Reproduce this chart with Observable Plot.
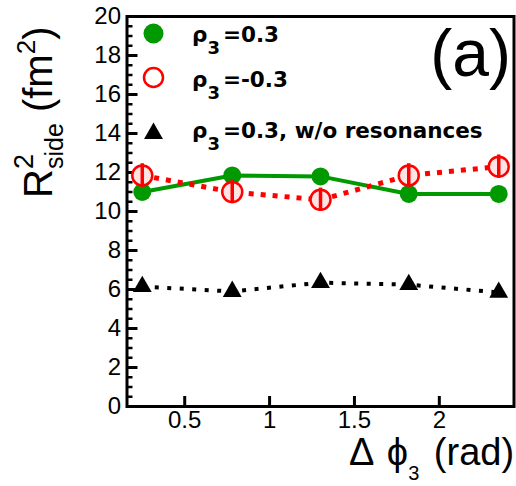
<!DOCTYPE html>
<html><head><meta charset="utf-8">
<script src="https://cdn.jsdelivr.net/npm/d3@7"></script>
<script src="https://cdn.jsdelivr.net/npm/@observablehq/plot@0.6"></script>
<style>body{margin:0;background:#fff} svg{display:block}</style>
</head><body><div id="chart"></div>
<script>
// Δφ3 (rad)
const dphi = [0.25, 0.78, 1.30, 1.82, 2.35];
// R^2_side (fm^2)
const rsidePos = [11.0, 11.85, 11.8, 10.9, 10.9];        // ρ3 = 0.3
const rsideNeg = [11.85, 11.0, 10.6, 11.85, 12.3];       // ρ3 = -0.3
const rsideNegErr = [0.6, 0.6, 0.6, 0.6, 0.6];
const rsideNoRes = [6.15, 5.9, 6.35, 6.25, 5.85];        // ρ3 = 0.3, w/o resonances
const yMajor = [0, 2, 4, 6, 8, 10, 12, 14, 16, 18, 20];
const yMinor = d3.range(0, 20.001, 0.5).filter(v => v % 2 !== 0);
const xTicks = [0.5, 1, 1.5, 2];
const legendRest = ["=0.3", "=-0.3", "=0.3, w/o resonances"];
const panelLabel = "(a)";

const GREEN = "#009900", RED = "#ff0000";
const W = 516, H = 486, mL = 126.5, mR = 2.5, mT = 16, mB = 80;
const fW = W - mL - mR, fH = H - mT - mB;

const pos = dphi.map((x, i) => ({x, y: rsidePos[i]}));
const neg = dphi.map((x, i) => ({x, y: rsideNeg[i], e: rsideNegErr[i]}));
const nores = dphi.map((x, i) => ({x, y: rsideNoRes[i]}));

const plot = Plot.plot({
  width: W, height: H,
  marginLeft: mL, marginRight: mR, marginTop: mT, marginBottom: mB,
  style: {fontFamily: "'Liberation Sans', Arial, sans-serif", fontSize: "24px", color: "black", background: "white"},
  x: {domain: [0.16, 2.44]},
  y: {domain: [0, 20]},
  marks: [
    Plot.axisY(yMajor, {tickSize: 0, tickPadding: 6, label: null, fontSize: 24}),
    Plot.axisX(xTicks, {tickSize: 0, tickPadding: 4, label: null, fontSize: 24, tickFormat: d => String(d)}),
    Plot.tickY(yMajor, {y: d => d, insetRight: fW - 11, stroke: "black", strokeWidth: 3}),
    Plot.tickY(yMinor, {y: d => d, insetRight: fW - 6, stroke: "black", strokeWidth: 2.5}),
    Plot.tickX(xTicks, {x: d => d, insetTop: fH - 10, stroke: "black", strokeWidth: 3}),
    // w/o resonances
    Plot.line(nores, {x: "x", y: "y", stroke: "black", strokeWidth: 4, strokeDasharray: "4,8.5", strokeLinecap: "butt"}),
    Plot.dot(nores, {x: "x", y: "y", symbol: "triangle", r: 7, fill: "black"}),
    // ρ3 = 0.3
    Plot.line(pos, {x: "x", y: "y", stroke: GREEN, strokeWidth: 4}),
    Plot.dot(pos, {x: "x", y: "y", r: 9, fill: GREEN}),
    // ρ3 = -0.3
    Plot.line(neg, {x: "x", y: "y", stroke: RED, strokeWidth: 5, strokeDasharray: "5,7", strokeLinecap: "butt"}),
    Plot.dot(neg, {x: "x", y: "y", r: 10, stroke: RED, strokeWidth: 2.5, fill: "#ffe4e4"}),
    Plot.ruleX(neg, {x: "x", y1: d => d.y - d.e, y2: d => d.y + d.e, stroke: RED, strokeWidth: 3.5}),
    Plot.frame({stroke: "black", strokeWidth: 3}),
    // legend markers
    Plot.dot([0], {frameAnchor: "top-left", dx: 26.5, dy: 17, r: 10, fill: GREEN}),
    Plot.dot([0], {frameAnchor: "top-left", dx: 26.5, dy: 61, r: 9.5, stroke: RED, strokeWidth: 2.5, fill: "white"}),
    Plot.dot([0], {frameAnchor: "top-left", dx: 26.5, dy: 117, symbol: "triangle", r: 7, fill: "black"})
  ]
});
document.getElementById("chart").appendChild(plot);

const svg = d3.select(plot);
// legend texts
const rows = [42, 87, 138];
legendRest.forEach((rest, i) => {
  const t = svg.append("text").attr("x", 192).attr("y", rows[i]).attr("text-anchor", "start")
    .attr("font-family", "'DejaVu Sans', sans-serif").attr("font-weight", "bold")
    .attr("font-size", 21.5).attr("fill", "black");
  t.append("tspan").text("ρ");
  t.append("tspan").attr("font-size", 18).attr("dy", 12).text("3");
  t.append("tspan").attr("dy", -12).attr("dx", 3).text(rest);
});
// panel label
svg.append("text").attr("x", 511).attr("y", 76).attr("text-anchor", "end")
  .attr("font-family", "'Liberation Sans', Arial, sans-serif").attr("font-size", 66)
  .attr("fill", "black").text(panelLabel);
// x title
const xt = svg.append("text").attr("x", 349).attr("y", 465).attr("text-anchor", "start")
  .attr("font-family", "'Liberation Sans', 'DejaVu Sans', Arial, sans-serif").attr("font-size", 38).attr("fill", "black");
xt.append("tspan").text("Δ");
xt.append("tspan").attr("dx", 4).text(" ϕ");
xt.append("tspan").attr("font-size", 20).attr("dy", 15).text("3");
xt.append("tspan").attr("dy", -15).attr("dx", 4).text(" (rad)");
// y title
const yt = svg.append("text").attr("transform", "translate(52,198) rotate(-90)").attr("text-anchor", "start")
  .attr("font-family", "'Liberation Sans', Arial, sans-serif").attr("font-size", 40).attr("fill", "black");
yt.append("tspan").text("R");
yt.append("tspan").attr("font-size", 27).attr("dy", -19).text("2");
yt.append("tspan").attr("font-size", 25).attr("dx", -15).attr("dy", 30).text("side");
yt.append("tspan").attr("dy", -11).text(" (fm");
yt.append("tspan").attr("font-size", 26).attr("dy", -17).text("2");
yt.append("tspan").attr("dy", 17).text(")");
</script>
</body></html>
